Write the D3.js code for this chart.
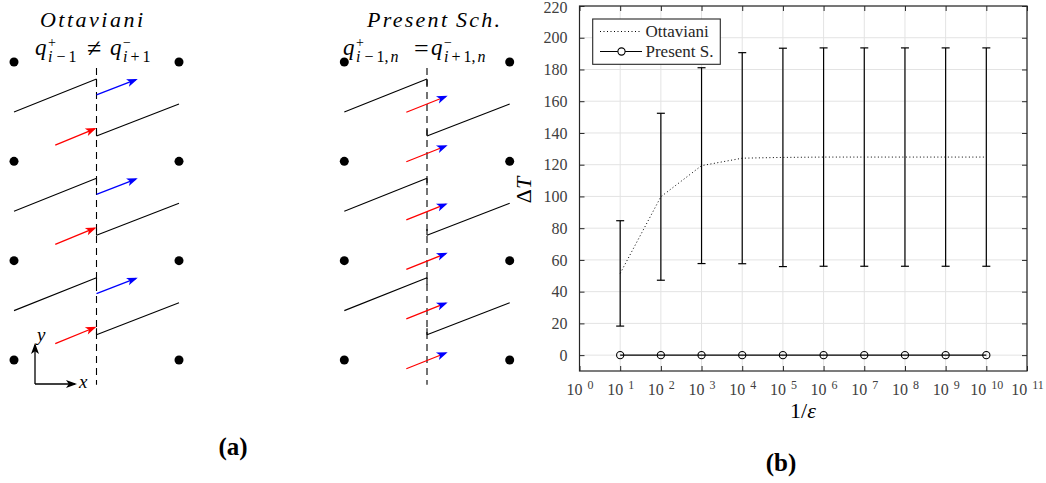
<!DOCTYPE html>
<html>
<head>
<meta charset="utf-8">
<script src="https://cdn.jsdelivr.net/npm/d3@7"></script>
<style>
  body { margin: 0; background: #fff; }
  svg { display: block; font-family: "Liberation Serif", "DejaVu Serif", serif; }
</style>
</head>
<body>
<svg id="fig" width="1046" height="483"></svg>
<script>
// chart (b) data
var decades = [0, 1, 2, 3, 4, 5, 6, 7, 8, 9, 10, 11];
var epsExp = [1, 2, 3, 4, 5, 6, 7, 8, 9, 10];
var ottMean = [51.5, 99.8, 119.4, 124.1, 124.6, 124.8, 124.8, 124.8, 124.8, 124.8];
var ottDev = [33.2, 52.6, 61.7, 66.5, 68.8, 68.8, 68.8, 68.8, 68.8, 68.8];
var presentVals = [0, 0, 0, 0, 0, 0, 0, 0, 0, 0];
var yTicks = [0, 20, 40, 60, 80, 100, 120, 140, 160, 180, 200, 220];

var svg = d3.select("#fig");
svg.append("rect").attr("width", 1046).attr("height", 483).attr("fill", "#fff");

// ---------- panel (a): schematic ----------
var diag = svg.append("g").attr("class", "diagram");
var ay = d3.scaleLinear().domain([0, 3]).range([62, 360]);
var axA = d3.scaleLinear().domain([0, 1]).range([14, 179]);
var axB = d3.scaleLinear().domain([0, 1]).range([344.3, 509.7]);
var cells = [0, 1, 2], dotRows = [0, 1, 2, 3];

function arrow(g, x1, y1, x2, y2, lineCol, headCol) {
  var a = Math.atan2(y2 - y1, x2 - x1), L = 11, W = 4;
  var bx = x2 - L * Math.cos(a), by = y2 - L * Math.sin(a);
  g.append("line").attr("x1", x1).attr("y1", y1).attr("x2", x2 - 2 * Math.cos(a)).attr("y2", y2 - 2 * Math.sin(a))
    .attr("stroke", lineCol).attr("stroke-width", 1.3);
  var mx = x2 - 0.75 * L * Math.cos(a), my = y2 - 0.75 * L * Math.sin(a);
  g.append("path")
    .attr("d", "M" + x2 + "," + y2 + "L" + (bx - W * Math.sin(a)) + "," + (by + W * Math.cos(a)) +
      "L" + mx + "," + my + "L" + (bx + W * Math.sin(a)) + "," + (by - W * Math.cos(a)) + "Z")
    .attr("fill", headCol);
}
function seg(g, x1, y1, x2, y2, dash) {
  g.append("line").attr("x1", x1).attr("y1", y1).attr("x2", x2).attr("y2", y2)
    .attr("stroke", "#000").attr("stroke-width", 1.1).attr("stroke-dasharray", dash || null);
}

[axA, axB].forEach(function(ax) {
  seg(diag, ax(0.5), ay(0.06), ax(0.5), ay(3.25), "7,5");
  dotRows.forEach(function(r) {
    diag.append("circle").attr("cx", ax(0)).attr("cy", ay(r)).attr("r", 4.5).attr("fill", "#000");
    diag.append("circle").attr("cx", ax(1)).attr("cy", ay(r)).attr("r", 4.5).attr("fill", "#000");
  });
  cells.forEach(function(r) {
    seg(diag, ax(0), ay(r + 0.503), ax(0.5), ay(r + 0.171));
    seg(diag, ax(0.5), ay(r + 0.745), ax(1), ay(r + 0.423));
    seg(diag, ax(0.5), ay(r + 0.171), ax(0.5), ay(r + 0.24));
    seg(diag, ax(0.5), ay(r + 0.68), ax(0.5), ay(r + 0.745));
  });
});

// Ottaviani: separate left (red) and right (blue) states
cells.forEach(function(r) {
  arrow(diag, axA(0.5), ay(r + 0.332), axA(0.75), ay(r + 0.171), "#00f", "#00f");
  arrow(diag, axA(0.25), ay(r + 0.836), axA(0.5), ay(r + 0.665), "#f00", "#f00");
});
// Present scheme: single state across the interface
[0.506, 1.004, 1.59, 2.087, 2.587, 3.088].forEach(function(v) {
  arrow(diag, axB(0.375), ay(v), axB(0.625), ay(v - 0.166), "#f00", "#00f");
});

// x-y axes glyph
arrow(diag, 35, 384, 35, 343, "#000", "#000");
arrow(diag, 35, 384, 77, 384, "#000", "#000");
diag.append("text").attr("x", 37).attr("y", 341).attr("font-size", 19).attr("font-style", "italic").text("y");
diag.append("text").attr("x", 79).attr("y", 388).attr("font-size", 19).attr("font-style", "italic").text("x");

// titles
diag.append("text").attr("x", 40).attr("y", 27).attr("font-size", 22).attr("font-style", "italic")
  .attr("textLength", 103).attr("lengthAdjust", "spacing").text("Ottaviani");
diag.append("text").attr("x", 367).attr("y", 27).attr("font-size", 22).attr("font-style", "italic")
  .attr("textLength", 133).attr("lengthAdjust", "spacing").text("Present\u2009Sch.");

function qsym(g, x, y, sup, sub) {
  g.append("text").attr("x", x).attr("y", y).attr("font-size", 23).attr("font-style", "italic").text("q");
  g.append("text").attr("x", x + 13).attr("y", y - 8).attr("font-size", 14).text(sup);
  var t = g.append("text").attr("x", x + 13).attr("y", y + 7).attr("font-size", 16);
  sub.forEach(function(p) {
    t.append("tspan").attr("font-style", p[1] ? "italic" : null).attr("dx", p[2] || 0).text(p[0]);
  });
}
qsym(diag, 35, 55, "+", [["i", 1], ["\u2212", 0, 4], ["1", 0, 3]]);
diag.append("text").attr("x", 87).attr("y", 57).attr("font-size", 26).text("\u2260");
qsym(diag, 110, 55, "\u2212", [["i", 1], ["+", 0, 3], ["1", 0, 3]]);

qsym(diag, 343, 55, "+", [["i", 1], ["\u2212", 0, 4], ["1,", 0, 3], ["n", 1, 2]]);
diag.append("text").attr("x", 414).attr("y", 57).attr("font-size", 26).text("=");
qsym(diag, 431, 55, "\u2212", [["i", 1], ["+", 0, 3], ["1,", 0, 3], ["n", 1, 2]]);

svg.append("text").attr("x", 233).attr("y", 455).attr("text-anchor", "middle")
  .attr("font-size", 25).attr("font-weight", "bold").text("(a)");
svg.append("text").attr("x", 781).attr("y", 471).attr("text-anchor", "middle")
  .attr("font-size", 25).attr("font-weight", "bold").text("(b)");

// ---------- panel (b): chart ----------
var L = 579.5, R = 1027, T = 6, B = 371;
var x = d3.scaleLog().domain([1, 1e11]).range([L, R]);
var y = d3.scaleLinear().domain([-10, 220]).range([B, T]);
var chart = svg.append("g").attr("class", "chart");

var grid = chart.append("g").attr("stroke", "#e3e3e3").attr("stroke-width", 1);
decades.forEach(function(k) {
  grid.append("line").attr("x1", x(Math.pow(10, k))).attr("x2", x(Math.pow(10, k))).attr("y1", T).attr("y2", B);
});
yTicks.forEach(function(v) {
  grid.append("line").attr("x1", L).attr("x2", R).attr("y1", y(v)).attr("y2", y(v));
});

var tickVals = decades.map(function(k) { return Math.pow(10, k); });
var xAxis = chart.append("g").attr("transform", "translate(0," + B + ")")
  .call(d3.axisBottom(x).tickValues(tickVals).tickSizeInner(-5).tickSizeOuter(0).tickPadding(13).tickFormat(function() { return ""; }));
xAxis.selectAll(".tick text").each(function(d) {
  var t = d3.select(this);
  t.append("tspan").text("10");
  t.append("tspan").attr("dx", 5).attr("dy", -6).attr("font-size", 12).text(Math.round(Math.log10(d)));
});
var yAxis = chart.append("g").attr("transform", "translate(" + L + ",0)")
  .call(d3.axisLeft(y).tickValues(yTicks).tickSizeInner(-5).tickSizeOuter(0).tickPadding(12));
chart.append("g").attr("transform", "translate(0," + T + ")")
  .call(d3.axisTop(x).tickValues(tickVals).tickSizeInner(-5).tickSizeOuter(0).tickFormat(function() { return ""; }));
chart.append("g").attr("transform", "translate(" + R + ",0)")
  .call(d3.axisRight(y).tickValues(yTicks).tickSizeInner(-5).tickSizeOuter(0).tickFormat(function() { return ""; }));
chart.selectAll(".domain").remove();
chart.selectAll(".tick line").attr("stroke", "#262626");
chart.selectAll(".tick text").attr("font-family", "Liberation Serif, serif").attr("font-size", 16).attr("fill", "#404040");
yAxis.selectAll(".tick text").filter(function(d) { return d === 220; }).attr("dy", "0.42em");
chart.append("rect").attr("x", L).attr("y", T).attr("width", R - L).attr("height", B - T)
  .attr("fill", "none").attr("stroke", "#262626").attr("stroke-width", 1.2);

var pts = epsExp.map(function(k, i) { return { x: Math.pow(10, k), m: ottMean[i], s: ottDev[i], p: presentVals[i] }; });

// error bars
var eb = chart.append("g").attr("stroke", "#000").attr("stroke-width", 1.2);
pts.forEach(function(d) {
  var cx = x(d.x);
  eb.append("line").attr("x1", cx).attr("x2", cx).attr("y1", y(d.m - d.s)).attr("y2", y(d.m + d.s));
  eb.append("line").attr("x1", cx - 4).attr("x2", cx + 4).attr("y1", y(d.m - d.s)).attr("y2", y(d.m - d.s));
  eb.append("line").attr("x1", cx - 4).attr("x2", cx + 4).attr("y1", y(d.m + d.s)).attr("y2", y(d.m + d.s));
});

chart.append("path").datum(pts)
  .attr("d", d3.line().x(function(d) { return x(d.x); }).y(function(d) { return y(d.m); }))
  .attr("fill", "none").attr("stroke", "#000").attr("stroke-width", 1).attr("stroke-dasharray", "1,2.5");

chart.append("path").datum(pts)
  .attr("d", d3.line().x(function(d) { return x(d.x); }).y(function(d) { return y(d.p); }))
  .attr("fill", "none").attr("stroke", "#000").attr("stroke-width", 1.2);
chart.selectAll("circle.mk").data(pts).enter().append("circle").attr("class", "mk")
  .attr("cx", function(d) { return x(d.x); }).attr("cy", function(d) { return y(d.p); })
  .attr("r", 3.6).attr("fill", "none").attr("stroke", "#000").attr("stroke-width", 1.1);

// axis labels
var yl = chart.append("text").attr("transform", "translate(531,190) rotate(-90)")
  .attr("text-anchor", "middle").attr("font-size", 22);
yl.append("tspan").text("\u0394");
yl.append("tspan").attr("font-style", "italic").text("T");
var xl = chart.append("text").attr("x", 803).attr("y", 418).attr("text-anchor", "middle").attr("font-size", 22);
xl.append("tspan").text("1/");
xl.append("tspan").attr("font-style", "italic").text("\u03b5");

// legend
var lg = chart.append("g");
lg.append("rect").attr("x", 592.7).attr("y", 19).attr("width", 127.6).attr("height", 45.3)
  .attr("fill", "#fff").attr("stroke", "#262626").attr("stroke-width", 1.1);
lg.append("line").attr("x1", 600).attr("x2", 640).attr("y1", 31.5).attr("y2", 31.5)
  .attr("stroke", "#000").attr("stroke-dasharray", "1,2.5");
lg.append("line").attr("x1", 600).attr("x2", 642).attr("y1", 51.5).attr("y2", 51.5)
  .attr("stroke", "#000").attr("stroke-width", 1.2);
lg.append("circle").attr("cx", 621.5).attr("cy", 51.5).attr("r", 3.6).attr("fill", "#fff").attr("stroke", "#000").attr("stroke-width", 1.1);
lg.append("text").attr("x", 645.5).attr("y", 37).attr("font-size", 17).attr("fill", "#262626").text("Ottaviani");
lg.append("text").attr("x", 645.5).attr("y", 57).attr("font-size", 17).attr("fill", "#262626").text("Present S.");
</script>
</body>
</html>
